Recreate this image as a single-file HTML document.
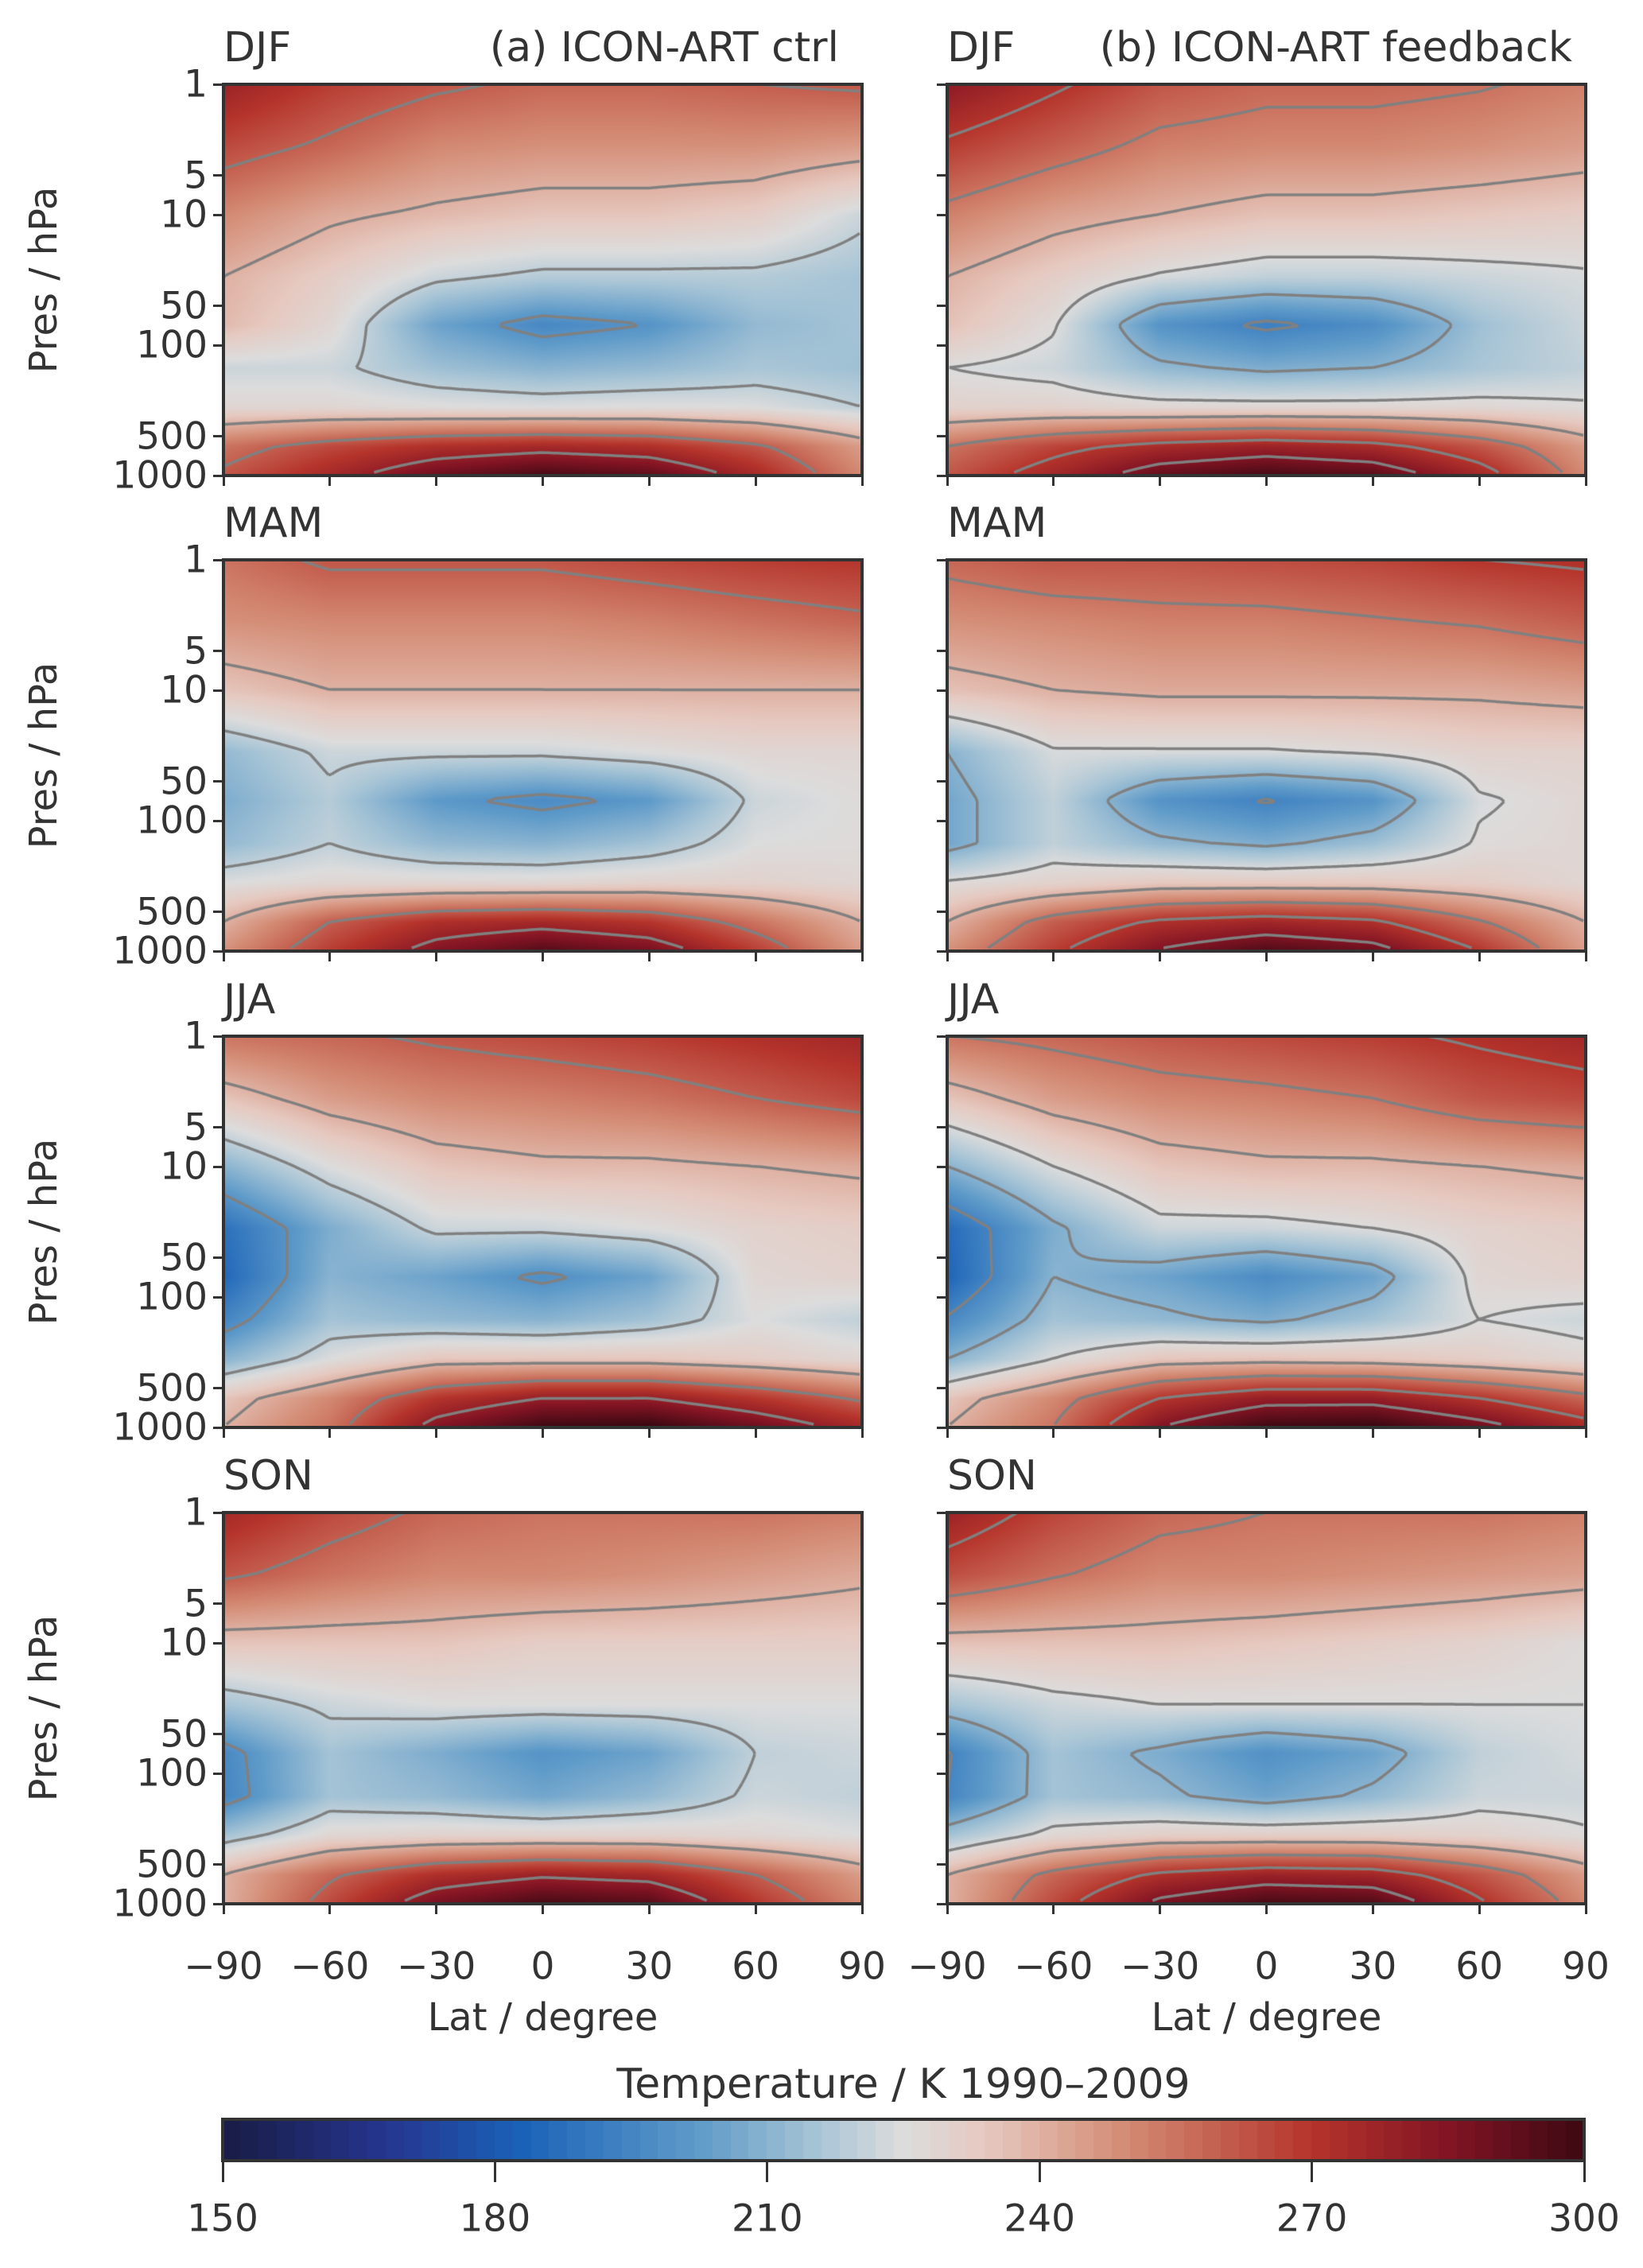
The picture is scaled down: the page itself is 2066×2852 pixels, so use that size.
<!DOCTYPE html>
<html><head><meta charset="utf-8">
<style>
html,body{margin:0;padding:0;background:#fff;}
body{width:2066px;height:2852px;position:relative;overflow:hidden;font-family:"DejaVu Sans","Liberation Sans",sans-serif;color:#333;}
.t{position:absolute;white-space:nowrap;line-height:1;}
canvas{position:absolute;}
.frame{position:absolute;border:4px solid #333;box-sizing:border-box;}
</style></head><body>
<div id="root"></div>
<script>
// ---- data: temperature (K) on grid lat x pressure ----
const lats=[-90,-60,-30,0,30,60,90];
const levels=[1,3,10,30,70,150,300,600,1000];
const djfCtrl=[[278,268,262,258,258,260,262],[265,258,250,248,248,248,245],[250,242,238,235,235,232,222],[240,232,222,218,218,218,215],[238,228,205,196,200,212,215],[222,222,214,210,212,216,214],[228,228,226,225,226,225,220],[255,265,272,275,272,262,245],[262,275,290,298,293,275,250]];
const djfFb=[[282,272,262,258,258,256,252],[268,260,252,250,250,248,245],[252,244,240,236,236,234,232],[240,232,224,220,220,222,224],[236,226,200,193,198,214,222],[225,222,212,208,210,216,220],[230,230,228,228,228,228,226],[255,266,274,278,274,262,245],[262,276,292,298,294,276,250]];
const mamCtrl=[[255,262,262,262,265,268,270],[248,250,250,250,252,255,258],[235,240,240,240,240,240,240],[212,222,222,222,225,228,228],[208,218,202,197,202,222,226],[212,220,212,210,215,225,226],[225,228,228,228,230,230,228],[240,260,272,275,270,255,240],[248,268,285,295,288,268,245]];
const mamFb=[[258,262,262,264,266,270,272],[248,250,252,252,254,256,260],[236,240,242,242,242,242,244],[210,224,224,224,226,230,230],[206,220,200,194,200,224,228],[206,220,212,208,214,226,228],[226,230,234,234,234,232,228],[240,260,272,276,272,256,240],[248,268,286,296,290,270,245]];
const jjaCtrl=[[255,258,262,265,268,272,276],[235,245,250,252,255,260,265],[210,225,235,238,238,240,242],[188,208,222,222,225,230,232],[185,210,205,198,205,228,230],[195,215,212,210,215,225,220],[210,225,235,235,235,232,228],[235,250,270,280,280,270,258],[240,255,285,300,302,290,275]];
const jjaFb=[[255,258,262,265,268,272,276],[235,245,250,252,255,262,265],[210,225,235,238,238,240,242],[186,208,222,222,225,230,232],[184,210,205,197,205,228,230],[196,215,212,208,215,225,222],[210,225,235,236,235,232,228],[235,250,270,280,280,270,258],[240,255,285,300,302,290,275]];
const sonCtrl=[[275,265,258,255,255,255,252],[262,255,250,250,248,245,242],[235,235,235,232,232,232,232],[215,222,225,225,225,225,225],[196,215,208,200,205,220,222],[195,215,212,206,212,222,220],[215,228,230,230,230,228,225],[240,258,272,278,275,260,245],[240,265,288,298,295,270,250]];
const sonFb=[[278,266,258,255,255,255,252],[264,256,250,250,248,246,244],[236,236,236,234,232,230,226],[215,222,225,225,225,225,225],[194,215,208,199,205,220,224],[195,215,212,205,212,222,222],[215,228,232,232,232,230,226],[240,258,272,278,276,262,245],[240,265,288,298,296,272,250]];
const panelData=[djfCtrl,djfFb,mamCtrl,mamFb,jjaCtrl,jjaFb,sonCtrl,sonFb];
const seasons=["DJF","MAM","JJA","SON"];
const ctrlLevels=[200,220,240,260,280,300];
const fbLevels=[195,210,225,240,255,270,285];
const yTicks=[1,5,10,50,100,500,1000];
const xTicks=[-90,-60,-30,0,30,60,90];
const cbTicks=[150,180,210,240,270,300];

const root=document.getElementById('root');
const colX=[281,1191], PW=803, PH=492;
const rowY=[106,704,1303,1902];
const stops=[[0,'#181c43'],[0.12,'#26358f'],[0.22,'#1a62b8'],[0.35,'#5f9bc9'],[0.44,'#aac6d6'],[0.5,'#dcdcdc'],[0.56,'#e6c9c0'],[0.66,'#d48d76'],[0.8,'#b5342b'],[0.9,'#821424'],[1,'#3c0912']].map(s=>[s[0],parseInt(s[1].slice(1,3),16),parseInt(s[1].slice(3,5),16),parseInt(s[1].slice(5,7),16)]);
function cmap(v){let t=Math.max(0,Math.min(1,(v-150)/150));for(let i=1;i<stops.length;i++){if(t<=stops[i][0]){const a=stops[i-1],b=stops[i],f=(t-a[0])/(b[0]-a[0]);return [a[1]+f*(b[1]-a[1]),a[2]+f*(b[2]-a[2]),a[3]+f*(b[3]-a[3])];}}return stops[stops.length-1].slice(1);}
const L0=Math.log10(1),L1=Math.log10(1000);
function yOf(p,top){return top+(Math.log10(p)-L0)/(L1-L0)*PH;}
function xOf(lat,left){return left+(lat+90)/180*PW;}
function field(d,lat,p){
  let xi=(lat+90)/30;xi=Math.max(0,Math.min(lats.length-1.0001,xi));const i=Math.floor(xi),fx=xi-i;
  const lp=Math.log10(p);let j=0;while(j<levels.length-2&&Math.log10(levels[j+1])<lp)j++;
  let fy=(lp-Math.log10(levels[j]))/(Math.log10(levels[j+1])-Math.log10(levels[j]));fy=Math.max(0,Math.min(1,fy));
  const a=d[j][i]*(1-fx)+d[j][i+1]*fx,b=d[j+1][i]*(1-fx)+d[j+1][i+1]*fx;return a*(1-fy)+b*fy;}
function txt(s,x,y,size,name,align,extra){const e=document.createElement('div');e.className='t';e.textContent=s;e.style.fontSize=size+'px';
  let tr='';if(align==='r')tr='translate(-100%,-50%)';else if(align==='c')tr='translate(-50%,-50%)';else if(align==='l')tr='translate(0,-50%)';
  e.style.left=x+'px';e.style.top=y+'px';e.style.transform=tr+(extra||'');
  
  
  root.appendChild(e);return e;}
function tick(x,y,w,h,name){const e=document.createElement('div');e.style.cssText=`position:absolute;left:${x}px;top:${y}px;width:${w}px;height:${h}px;background:#333`;
  
  
  root.appendChild(e);}

for(let r=0;r<4;r++)for(let c=0;c<2;c++){
  const d=panelData[r*2+c],left=colX[c],top=rowY[r];
  const cv=document.createElement('canvas');cv.width=PW;cv.height=PH;cv.style.left=left+'px';cv.style.top=top+'px';
  
  
  root.appendChild(cv);
  const ctx=cv.getContext('2d');const img=ctx.createImageData(PW,PH);
  const vals=new Float32Array(PW*PH);
  for(let y=0;y<PH;y++){const p=Math.pow(10,L0+(y+0.5)/PH*(L1-L0));for(let x=0;x<PW;x++){const lat=-90+(x+0.5)/PW*180;const v=field(d,lat,p);vals[y*PW+x]=v;const col=cmap(v);const k=(y*PW+x)*4;img.data[k]=col[0];img.data[k+1]=col[1];img.data[k+2]=col[2];img.data[k+3]=255;}}
  ctx.putImageData(img,0,0);
  const lv=c?fbLevels:ctrlLevels,S=4;ctx.strokeStyle='#808080';ctx.lineWidth=3.5;ctx.beginPath();
  const g=(x,y)=>vals[Math.min(PH-1,y)*PW+Math.min(PW-1,x)];
  for(const L of lv){for(let y=0;y<PH-S;y+=S)for(let x=0;x<PW-S;x+=S){
    const a=g(x,y),b=g(x+S,y),cc=g(x+S,y+S),dd=g(x,y+S);const pts=[];
    const e=(v1,v2,x1,y1,x2,y2)=>{if((v1<L)!==(v2<L)){const f=(L-v1)/(v2-v1);pts.push([x1+f*(x2-x1),y1+f*(y2-y1)]);}};
    e(a,b,x,y,x+S,y);e(b,cc,x+S,y,x+S,y+S);e(cc,dd,x+S,y+S,x,y+S);e(dd,a,x,y+S,x,y);
    for(let k=0;k+1<pts.length;k+=2){ctx.moveTo(pts[k][0],pts[k][1]);ctx.lineTo(pts[k+1][0],pts[k+1][1]);}}}
  ctx.stroke();
  const fr=document.createElement('div');fr.className='frame';fr.style.cssText=`left:${left-2}px;top:${top-2}px;width:${PW+4}px;height:${PH+4}px`;
  
  
  root.appendChild(fr);
  txt(seasons[r],left,top-46,52,'season-title','l');
  if(r===0)txt(c?'(b) ICON-ART feedback':'(a) ICON-ART ctrl',c?1977:1055,top-46,52,'panel-title','r');
  for(const p of yTicks){const y=yOf(p,top);tick(left-13,y-1.5,12,3,'y-tick');if(c===0)txt(String(p),left-20,y,47,'y-tick-label','r');}
  if(c===0)txt('Pres / hPa',55,top+PH/2,48,'y-axis-title','c',' rotate(-90deg)');
  for(const la of xTicks){const x=xOf(la,left);tick(x-1.5,top+PH+1,3,12,'x-tick');if(r===3)txt(String(la).replace('-','\u2212'),x,2473,47,'x-tick-label','c');}
  if(r===3)txt('Lat / degree',left+PW/2,2537,48,'x-axis-title','c');
}
// colorbar
const cbL=280,cbT=2665,cbW=1712,cbH=52;
const cb=document.createElement('canvas');cb.width=cbW;cb.height=cbH;cb.style.left=cbL+'px';cb.style.top=cbT+'px';


root.appendChild(cb);
{const ctx=cb.getContext('2d');const n=75;for(let i=0;i<n;i++){const v=150+(i+0.5)/n*150;const col=cmap(v);ctx.fillStyle=`rgb(${col.map(Math.round).join(',')})`;ctx.fillRect(Math.floor(i*cbW/n),0,Math.ceil(cbW/n)+1,cbH);}}
const cf=document.createElement('div');cf.className='frame';cf.style.cssText=`left:${cbL-2}px;top:${cbT-2}px;width:${cbW+4}px;height:${cbH+4}px`;


root.appendChild(cf);
for(const v of cbTicks){const x=cbL+(v-150)/150*cbW;tick(x-1.5,cbT+cbH+1,3,26,'colorbar-tick');txt(String(v),x,2790,47,'colorbar-tick-label','c');}
txt('Temperature / K  1990\u20132009',cbL+cbW/2,2621,52,'colorbar-title','c');
</script>
</body></html>
